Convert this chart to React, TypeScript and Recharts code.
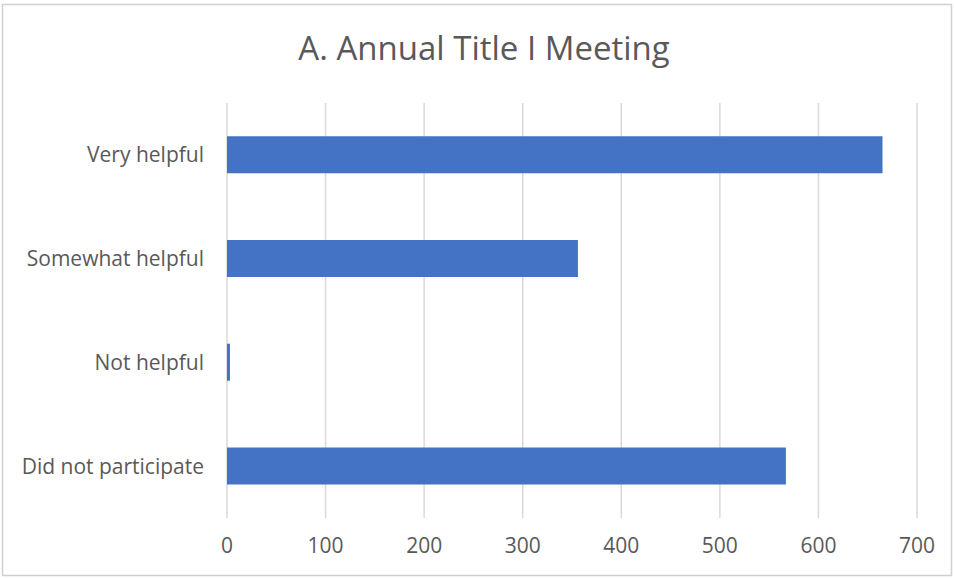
import { Bar, BarChart, CartesianGrid, XAxis, YAxis } from "recharts";

const categories = ["Very helpful", "Somewhat helpful", "Not helpful", "Did not participate"];
const responses = [665, 356, 3, 567];
const xTicks = [0, 100, 200, 300, 400, 500, 600, 700];

const chartData = categories.map((name, i) => ({ name, value: responses[i] }));

const FONT = "'Open Sans', sans-serif";
const LABEL = "#595959";

export default function App() {
  return (
    <div
      style={{
        position: "fixed",
        left: 0,
        top: 0,
        width: 954,
        height: 578,
        background: "#fff",
        fontFamily: FONT,
      }}
    >
      <div
        style={{
          position: "absolute",
          top: 25,
          left: 0,
          width: 968,
          textAlign: "center",
          fontSize: 33,
          color: LABEL,
          lineHeight: "46px",
        }}
      >
        A. Annual Title I Meeting
      </div>
      <div style={{ position: "absolute", left: 0, top: 0 }}>
        <BarChart
          width={954}
          height={578}
          data={chartData}
          layout="vertical"
          margin={{ top: 103, right: 37, bottom: 30, left: 0 }}
          barCategoryGap="32%"
        >
          <CartesianGrid horizontal={false} stroke="#d9d9d9" strokeWidth={1.5} />
          <XAxis
            type="number"
            domain={[0, 700]}
            ticks={xTicks}
            height={30}
            axisLine={false}
            tickLine={false}
            tickSize={0}
            tickMargin={20}
            tick={{ fontSize: 21, fill: LABEL, fontFamily: FONT }}
          />
          <YAxis
            type="category"
            dataKey="name"
            width={227}
            axisLine={false}
            tickLine={false}
            tickSize={0}
            tickMargin={23}
            tick={{ fontSize: 21, fill: LABEL, fontFamily: FONT }}
          />
          <Bar dataKey="value" fill="#4472c4" isAnimationActive={false} />
        </BarChart>
      </div>
      <svg
        width={954}
        height={578}
        style={{ position: "absolute", left: 0, top: 0, pointerEvents: "none" }}
      >
        <rect x={2.5} y={4.5} width={949} height={571} fill="none" stroke="#d0d0d0" strokeWidth={1.5} />
      </svg>
    </div>
  );
}
